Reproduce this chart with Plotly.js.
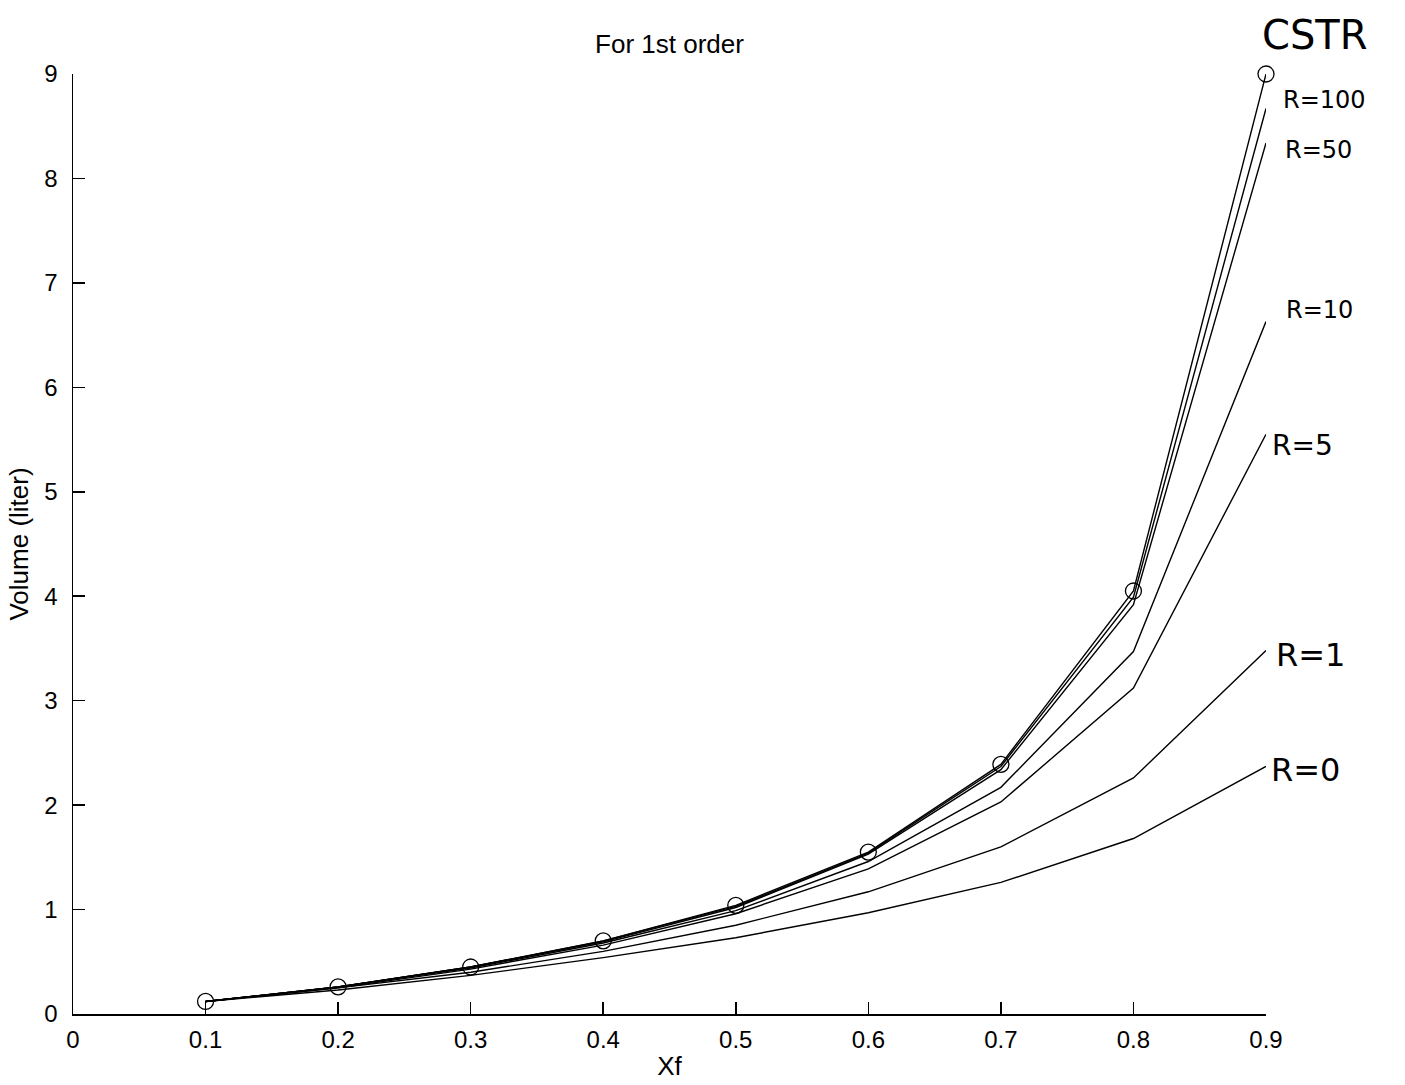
<!DOCTYPE html>
<html>
<head>
<meta charset="utf-8">
<script src="https://cdn.plot.ly/plotly-3.0.1.min.js"></script>
<style>
  html, body { margin: 0; padding: 0; background: #fff; }
  #chart { width: 1405px; height: 1085px; }
</style>
</head>
<body>
<div id="chart"></div>
<script>
// ---- data ----
const xf = [0.1, 0.2, 0.3, 0.4, 0.5, 0.6, 0.7, 0.8, 0.9];
const cstr = [0.12, 0.26, 0.45, 0.70, 1.04, 1.55, 2.39, 4.05, 9.0];
const r100 = [0.12, 0.26, 0.45, 0.70, 1.03, 1.54, 2.37, 3.99, 8.67];
const r50  = [0.12, 0.26, 0.45, 0.69, 1.02, 1.53, 2.34, 3.92, 8.34];
const r10  = [0.12, 0.26, 0.44, 0.68, 0.99, 1.46, 2.17, 3.47, 6.63];
const r5   = [0.12, 0.25, 0.43, 0.66, 0.96, 1.39, 2.03, 3.12, 5.55];
const r1   = [0.12, 0.25, 0.40, 0.60, 0.85, 1.17, 1.60, 2.26, 3.48];
const r0   = [0.12, 0.23, 0.37, 0.54, 0.73, 0.97, 1.26, 1.68, 2.37];

const xTicks = [0, 0.1, 0.2, 0.3, 0.4, 0.5, 0.6, 0.7, 0.8, 0.9];
const xTickLabels = ['0', '0.1', '0.2', '0.3', '0.4', '0.5', '0.6', '0.7', '0.8', '0.9'];
const yTicks = [0, 1, 2, 3, 4, 5, 6, 7, 8, 9];

const chartTitle = 'For 1st order';
const xLabel = 'Xf';
const yLabel = 'Volume (liter)';
const seriesNames = ['R=0', 'R=1', 'R=5', 'R=10', 'R=50', 'R=100', 'CSTR'];

// ---- traces ----
const lineStyle = { color: '#000', width: 1.4 };
const recycle = [r0, r1, r5, r10, r50, r100];
const traces = recycle.map((ys, i) => ({
  x: xf, y: ys, type: 'scatter', mode: 'lines',
  name: seriesNames[i], line: lineStyle, cliponaxis: false
}));
traces.push({
  x: xf, y: cstr, type: 'scatter', mode: 'lines+markers',
  name: seriesNames[6], line: lineStyle, cliponaxis: false,
  marker: { symbol: 'circle-open', size: 16, color: '#000', line: { width: 1.3, color: '#000' } }
});

// hand-written labels at the right edge (paper coordinates)
const hand = { family: 'DejaVu Sans, sans-serif', color: '#000' };
const labelPos = {
  'CSTR':  { x: 1.041, y: 1.042, size: 40 },
  'R=100': { x: 1.049, y: 0.972, size: 24 },
  'R=50':  { x: 1.044, y: 0.919, size: 24 },
  'R=10':  { x: 1.045, y: 0.749, size: 24 },
  'R=5':   { x: 1.031, y: 0.605, size: 28 },
  'R=1':   { x: 1.037, y: 0.382, size: 32 },
  'R=0':   { x: 1.033, y: 0.260, size: 32 }
};
const annotations = seriesNames.slice().reverse().map(k => ({
  text: k, x: labelPos[k].x, y: labelPos[k].y, xref: 'paper', yref: 'paper',
  showarrow: false, xanchor: 'center', yanchor: 'middle',
  font: Object.assign({ size: labelPos[k].size }, hand)
}));

const tickFont = { family: 'Liberation Sans, Arial, sans-serif', size: 24, color: '#000' };
const labelFont = { family: 'Liberation Sans, Arial, sans-serif', size: 26, color: '#000' };

const layout = {
  width: 1405, height: 1085,
  paper_bgcolor: '#fff', plot_bgcolor: '#fff',
  margin: { l: 73, r: 139, t: 74, b: 71 },
  showlegend: false,
  font: tickFont,
  title: {
    text: chartTitle, font: labelFont,
    x: 0.5, xref: 'paper', y: 1 - 44 / 1085, yref: 'container', yanchor: 'middle'
  },
  xaxis: {
    range: [0, 0.9], tickvals: xTicks, ticktext: xTickLabels,
    showline: true, linecolor: '#000', linewidth: 1.5, mirror: false,
    ticks: 'inside', ticklen: 12, tickwidth: 1.5, tickcolor: '#000',
    showgrid: false, zeroline: false, tickfont: tickFont, ticklabelstandoff: 4,
    title: { text: xLabel, font: labelFont, standoff: 4 }
  },
  yaxis: {
    range: [0, 9], tickvals: yTicks,
    showline: true, linecolor: '#000', linewidth: 1.5, mirror: false,
    ticks: 'inside', ticklen: 12, tickwidth: 1.5, tickcolor: '#000',
    showgrid: false, zeroline: false, tickfont: tickFont, ticklabelstandoff: 9,
    title: { text: yLabel, font: labelFont, standoff: 8 }
  },
  annotations: annotations
};

Plotly.newPlot('chart', traces, layout, { displayModeBar: false, staticPlot: true });
</script>
</body>
</html>
